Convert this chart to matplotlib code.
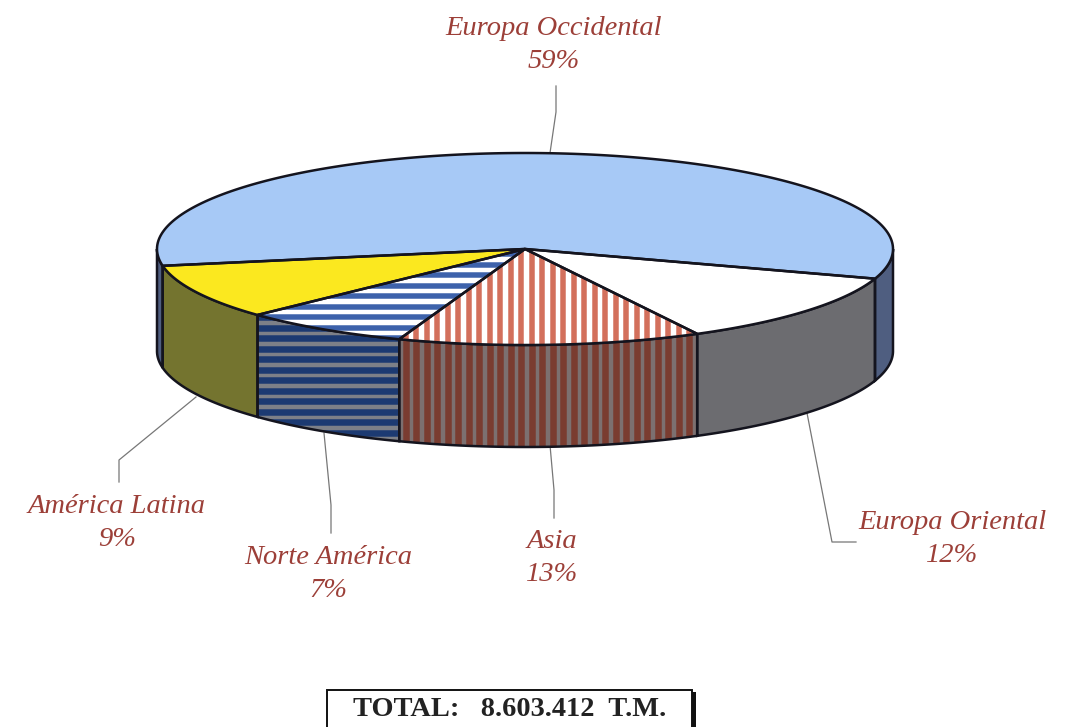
#!/usr/bin/env python3
"""Flat 3D pie of tonnage share by region, drawn on a pixel-sized axes."""

import matplotlib

matplotlib.use("Agg")
import matplotlib.pyplot as plt
import numpy as np
from matplotlib.patches import Polygon, Rectangle

regions = ["Europa Occidental", "América Latina", "Norte América", "Asia", "Europa Oriental"]
shares = [59, 9, 7, 13, 12]
# slice sizes as measured on the picture, the printed labels are rounded
slice_sizes = [57.8, 9.25, 7.4, 13.3, 12.25]
total_label = "TOTAL:   8.603.412  T.M."

top_colors = ["#a7c9f6", "#fbe81f", "#ffffff", "#ffffff", "#ffffff"]
wall_colors = ["#4f5e80", "#74742f", "#7d8088", "#7c7070", "#6c6c70"]
stripe_colors = [None, None, "#3d62ab", "#d3705c", None]
wall_stripe_colors = [None, None, "#1c3a72", "#7a3c30", None]
stripe_dirs = [None, None, "h", "v", None]

label_pos = [(554, 45), (117, 523), (328, 574), (552, 558), (952, 539)]
leaders = [
    [(556, 86), (556, 112), (550, 153)],
    [(196, 397), (119, 460), (119, 482)],
    [(324, 433), (331, 505), (331, 533)],
    [(550, 445), (554, 490), (554, 518)],
    [(807, 413), (832, 542), (856, 542)],
]

CX, CY, RX, RY = 525, 249, 368, 96
DEPTH = 102
START = -18
TEXT_RED = "#9c3f38"
LINE = "#14141e"


def arc(t0, t1, dy=0.0):
    t = np.radians(np.linspace(t0, t1, 200))
    return np.column_stack([CX + RX * np.cos(t), CY - RY * np.sin(t) + dy])


def stripes(ax, patch, direction, color, period=10.5, width=5.5):
    if direction == "v":
        for x in np.arange(395, 705, period):
            ln, = ax.plot([x, x], [240, 450], color=color, lw=width * 0.72, solid_capstyle="butt", zorder=patch.zorder + 0.1)
            ln.set_clip_path(patch)
    else:
        for y in np.arange(254, 450, period):
            ln, = ax.plot([240, 520], [y, y], color=color, lw=width * 0.72, solid_capstyle="butt", zorder=patch.zorder + 0.1)
            ln.set_clip_path(patch)


fig = plt.figure(figsize=(10.65, 7.27), dpi=100)
ax = fig.add_axes([0, 0, 1, 1])
ax.set_xlim(0, 1065)
ax.set_ylim(727, 0)
ax.axis("off")

edges = START + np.concatenate([[0], np.cumsum(slice_sizes)]) * 3.6

# side wall first, only the front half of the ellipse shows
for i in range(len(slice_sizes)):
    t0, t1 = edges[i], edges[i + 1]
    spans = [(t0, min(t1, 0)), (max(t0, 180), t1)] if i == 0 else [(t0, t1)]
    for a, b in spans:
        if b <= a:
            continue
        pts = np.vstack([arc(a, b), arc(a, b, DEPTH)[::-1]])
        wall = Polygon(pts, closed=True, fc=wall_colors[i], ec="none", zorder=2)
        ax.add_patch(wall)
        if stripe_dirs[i]:
            stripes(ax, wall, stripe_dirs[i], wall_stripe_colors[i], width=6.5)
        ax.add_patch(Polygon(pts, closed=True, fc="none", ec=LINE, lw=1.8, zorder=3))

# top face
for i in range(len(slice_sizes)):
    pts = np.vstack([[(CX, CY)], arc(edges[i], edges[i + 1])])
    top = Polygon(pts, closed=True, fc=top_colors[i], ec="none", zorder=4)
    ax.add_patch(top)
    if stripe_dirs[i]:
        stripes(ax, top, stripe_dirs[i], stripe_colors[i])
    ax.add_patch(Polygon(pts, closed=True, fc="none", ec=LINE, lw=1.8, zorder=5))

for name, share, (x, y), path in zip(regions, shares, label_pos, leaders):
    ax.text(x, y, f"{name}\n{share}%", family="Liberation Serif", style="italic", fontsize=20.5,
            color=TEXT_RED, ha="center", va="center", linespacing=1.45)
    xs, ys = zip(*path)
    ax.plot(xs, ys, color="#777777", lw=0.9, zorder=1)

# total box runs off the bottom of the scan
ax.add_patch(Rectangle((329, 692), 367, 40, fc="#111111", ec="none", zorder=6))
ax.add_patch(Rectangle((327, 690), 365, 42, fc="white", ec="#111111", lw=1.4, zorder=7))
ax.text(510, 710, total_label, family="Liberation Serif", weight="bold", fontsize=20.4,
        color="#222222", ha="center", va="center", zorder=8)

fig.savefig("out.png", dpi=100)
